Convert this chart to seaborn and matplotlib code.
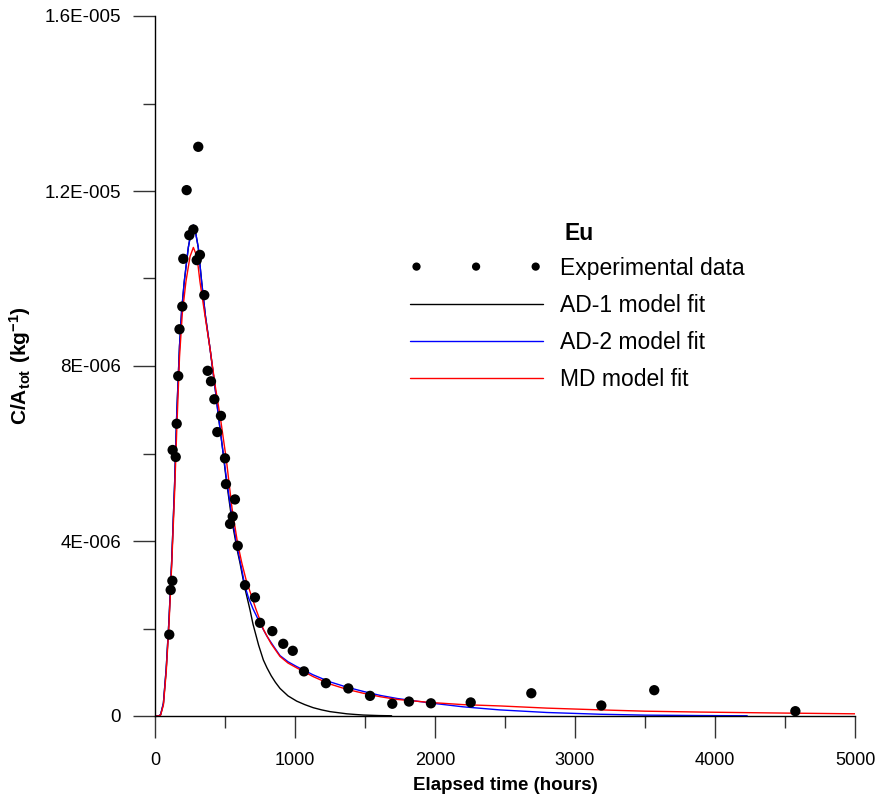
import numpy as np
import pandas as pd
import matplotlib
matplotlib.use("Agg")
import matplotlib.pyplot as plt
import seaborn as sns
from matplotlib.ticker import MultipleLocator

# ---------------- data (concentration values in units of 1E-006 kg^-1) ----------------
exp_x = [102, 112, 124, 126, 148, 155, 166, 175, 195, 202, 226, 245, 274, 298, 309,
         321, 352, 376, 400, 424, 445, 471, 500, 507, 536, 555, 571, 591, 643, 714,
         750, 838, 916, 984, 1064, 1221, 1381, 1536, 1695, 1814, 1971, 2255, 2688,
         3188, 3566, 4574]
exp_y = [1.86, 2.88, 3.09, 6.08, 5.92, 6.68, 7.77, 8.84, 9.36, 10.45, 12.02, 10.99,
         11.12, 10.42, 13.01, 10.54, 9.62, 7.89, 7.65, 7.24, 6.49, 6.86, 5.89, 5.30,
         4.39, 4.56, 4.95, 3.89, 2.99, 2.71, 2.13, 1.94, 1.65, 1.49, 1.02, 0.75, 0.63,
         0.46, 0.28, 0.33, 0.29, 0.31, 0.52, 0.24, 0.59, 0.11]

ad1_x = [0, 25, 40, 60, 80, 100, 120, 140, 155, 175, 190, 209, 238, 260, 274, 290,
         309, 333, 360, 393, 430, 452, 480, 507, 550, 590, 607, 640, 679, 700, 740,
         774, 800, 830, 860, 893, 950, 1012, 1070, 1130, 1190, 1250, 1310, 1370,
         1430, 1488, 1600, 1690]
ad1_y = [0, 0, 0.03, 0.29, 1.08, 2.2, 3.6, 5.3, 6.88, 8.45, 9.25, 9.93, 10.71, 11.1,
         11.22, 11.05, 10.71, 9.93, 9.15, 8.4, 7.48, 6.88, 6.18, 5.45, 4.45, 3.75,
         3.5, 2.95, 2.42, 2.10, 1.62, 1.28, 1.10, 0.92, 0.77, 0.63, 0.46, 0.34, 0.26,
         0.19, 0.14, 0.10, 0.075, 0.05, 0.035, 0.022, 0.01, 0.005]

ad2_x = [0, 25, 40, 60, 80, 100, 120, 140, 155, 175, 190, 209, 238, 260, 274, 290,
         309, 333, 360, 393, 430, 452, 480, 507, 550, 590, 620, 640, 667, 700, 750,
         800, 850, 893, 950, 1012, 1130, 1250, 1370, 1490, 1610, 1730, 1960, 2200,
         2460, 2800, 3180, 3500, 3890, 4230]
ad2_y = [0, 0, 0.03, 0.29, 1.08, 2.2, 3.6, 5.3, 6.88, 8.45, 9.25, 9.93, 10.71, 11.1,
         11.22, 11.05, 10.71, 9.93, 9.15, 8.4, 7.48, 6.88, 6.18, 5.51, 4.55, 3.82,
         3.35, 3.0, 2.71, 2.45, 2.12, 1.82, 1.58, 1.38, 1.24, 1.13, 0.94, 0.78, 0.66,
         0.56, 0.47, 0.40, 0.30, 0.21, 0.14, 0.08, 0.04, 0.02, 0.01, 0.005]

md_x = [0, 25, 40, 60, 80, 100, 120, 140, 155, 175, 195, 221, 250, 274, 300, 321,
        350, 393, 430, 470, 510, 550, 590, 620, 650, 679, 720, 774, 830, 893, 950,
        1012, 1130, 1250, 1370, 1488, 1610, 1726, 1964, 2200, 2464, 2800, 3179, 3500,
        3893, 4400, 5000]
md_y = [0, 0, 0.02, 0.25, 1.0, 2.1, 3.5, 5.1, 6.5, 8.2, 9.2, 9.93, 10.5, 10.71, 10.5,
        9.93, 9.3, 8.4, 7.55, 6.75, 5.85, 4.75, 3.95, 3.5, 3.12, 2.84, 2.45, 1.98,
        1.65, 1.36, 1.21, 1.10, 0.90, 0.73, 0.61, 0.52, 0.44, 0.38, 0.31, 0.26, 0.23,
        0.18, 0.14, 0.11, 0.09, 0.07, 0.05]

x_ticks = [0, 1000, 2000, 3000, 4000, 5000]
x_tick_labels = ["0", "1000", "2000", "3000", "4000", "5000"]
y_ticks = [0, 4e-6, 8e-6, 1.2e-5, 1.6e-5]
y_tick_labels = ["0", "4E-006", "8E-006", "1.2E-005", "1.6E-005"]

legend_title = "Eu"
series_labels = ["Experimental data", "AD-1 model fit", "AD-2 model fit", "MD model fit"]
SCALE = 1e-6

# ---------------- style ----------------
sns.set_style("ticks")
plt.rcParams['font.family'] = ['Liberation Sans', 'DejaVu Sans']
plt.rcParams['mathtext.fontset'] = 'custom'
plt.rcParams['mathtext.rm'] = 'Liberation Sans'
plt.rcParams['mathtext.bf'] = 'Liberation Sans:bold'
plt.rcParams['axes.linewidth'] = 1.0
for key in ("text.color", "axes.labelcolor", "xtick.labelcolor", "ytick.labelcolor"):
    plt.rcParams[key] = "black"

fig = plt.figure(figsize=(8.82, 8.0), dpi=100)
ax = fig.add_axes([155 / 882, 1 - 716 / 800, 700 / 882, 700 / 800])

exp_df = pd.DataFrame({"t": exp_x, "c": np.array(exp_y) * SCALE})
ad1_df = pd.DataFrame({"t": ad1_x, "c": np.array(ad1_y) * SCALE})
ad2_df = pd.DataFrame({"t": ad2_x, "c": np.array(ad2_y) * SCALE})
md_df = pd.DataFrame({"t": md_x, "c": np.array(md_y) * SCALE})

sns.lineplot(data=ad1_df, x="t", y="c", color="black", linewidth=1.0,
             label=series_labels[1], ax=ax)
sns.lineplot(data=ad2_df, x="t", y="c", color="blue", linewidth=1.0,
             label=series_labels[2], ax=ax)
sns.lineplot(data=md_df, x="t", y="c", color="red", linewidth=1.0,
             label=series_labels[3], ax=ax)
sns.scatterplot(data=exp_df, x="t", y="c", color="black", s=55, edgecolor="none",
                label=series_labels[0], ax=ax, zorder=5)

ax.set_xlim(0, 5000)
ax.set_ylim(0, 1.6e-5)
ax.set_xticks(x_ticks)
ax.set_xticklabels(x_tick_labels)
ax.xaxis.set_minor_locator(MultipleLocator(500))
ax.set_yticks(y_ticks)
ax.set_yticklabels(y_tick_labels)
ax.yaxis.set_minor_locator(MultipleLocator(2e-6))

ax.tick_params(which="major", length=16, width=1.0, color="#333333",
               labelsize=13, direction="out")
ax.tick_params(which="minor", length=8.5, width=1.0, color="#333333", direction="out")
ax.tick_params(axis="y", which="major", pad=8.5, labelsize=13.5)
ax.tick_params(axis="x", which="major", pad=10)

sns.despine(ax=ax)
for sp in ("left", "bottom"):
    ax.spines[sp].set_color("black")

ax.set_xlabel("Elapsed time (hours)", fontsize=13.5, fontweight="bold", labelpad=6)
ax.set_ylabel(r"$\mathbf{C/A_{tot}\ (kg^{-1})}$", fontsize=15)
ax.yaxis.set_label_coords(-0.175, 0.5)

handles, labels = ax.get_legend_handles_labels()
order = [labels.index(l) for l in series_labels]
leg = ax.legend([handles[i] for i in order], [labels[i] for i in order],
                loc="upper left", bbox_to_anchor=(389 / 882, 1 - 236 / 800),
                bbox_transform=fig.transFigure, frameon=False, fontsize=16.5,
                handlelength=5.8, handletextpad=0.75, labelspacing=0.62,
                scatterpoints=3, scatteryoffsets=[0.5], markerscale=0.8,
                borderpad=0.4)
fig.text(565 / 882, 1 - 233 / 800, legend_title, fontsize=16.5, fontweight="bold",
         ha="left", va="center")

fig.savefig("out.png", dpi=100, facecolor="white")
